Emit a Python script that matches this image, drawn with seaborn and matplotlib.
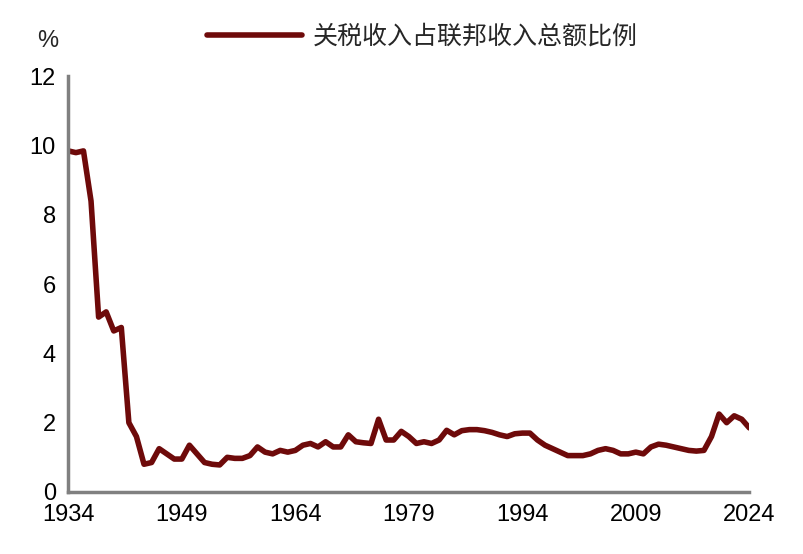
import matplotlib
matplotlib.use("Agg")
import matplotlib.pyplot as plt
import seaborn as sns
import pandas as pd

years = list(range(1934, 2025))
values = [9.85, 9.8, 9.85, 8.4, 5.05, 5.2, 4.65, 4.75, 2.0, 1.6,
          0.8, 0.85, 1.25, 1.1, 0.95, 0.95, 1.35, 1.1, 0.85, 0.8,
          0.78, 1.0, 0.97, 0.97, 1.05, 1.3, 1.15, 1.1, 1.2, 1.15,
          1.2, 1.35, 1.4, 1.3, 1.45, 1.3, 1.3, 1.65, 1.45, 1.42,
          1.4, 2.1, 1.5, 1.5, 1.75, 1.6, 1.4, 1.45, 1.4, 1.5,
          1.78, 1.65, 1.77, 1.8, 1.8, 1.77, 1.72, 1.65, 1.6, 1.68,
          1.7, 1.7, 1.5, 1.35, 1.25, 1.15, 1.05, 1.05, 1.05, 1.1,
          1.2, 1.25, 1.2, 1.1, 1.1, 1.15, 1.1, 1.3, 1.38, 1.35,
          1.3, 1.25, 1.2, 1.18, 1.2, 1.6, 2.25, 2.0, 2.2, 2.1, 1.85]
xticks = [1934, 1949, 1964, 1979, 1994, 2009, 2024]
yticks = [0, 2, 4, 6, 8, 10, 12]
label = "关税收入占联邦收入总额比例"

sns.set_style("white")
plt.rcParams['font.family'] = ['Noto Sans CJK SC', 'DejaVu Sans']

df = pd.DataFrame({"year": years, "val": values})
fig, ax = plt.subplots(figsize=(8.04, 5.54), dpi=100)
fig.subplots_adjust(left=0.085, right=0.932, bottom=0.112, top=0.862)
sns.lineplot(data=df, x="year", y="val", color="#6e0a0a", linewidth=4, ax=ax, label=label)
ax.set_xlim(1934, 2024)
ax.set_ylim(0, 12)
ax.set_xticks(xticks)
ax.set_yticks(yticks)
ax.set_xlabel("")
ax.set_ylabel("")
for s in ["top", "right"]:
    ax.spines[s].set_visible(False)
for s in ["left", "bottom"]:
    ax.spines[s].set_color("#808080")
    ax.spines[s].set_linewidth(2.5)
ax.tick_params(axis="both", direction="out", length=5, width=2, color="#808080",
               labelsize=17, labelcolor="black", pad=4)
for t in ax.get_xticklabels() + ax.get_yticklabels():
    t.set_family(["Liberation Sans", "DejaVu Sans"])
ax.text(-0.03, 1.07, "%", transform=ax.transAxes, fontsize=17, ha="center",
        family=["Liberation Sans", "DejaVu Sans"])
leg = ax.legend(loc="lower center", bbox_to_anchor=(0.52, 1.01), frameon=False,
                fontsize=18, handlelength=3.8, handletextpad=0.4)
fig.savefig("out.png", dpi=100)
